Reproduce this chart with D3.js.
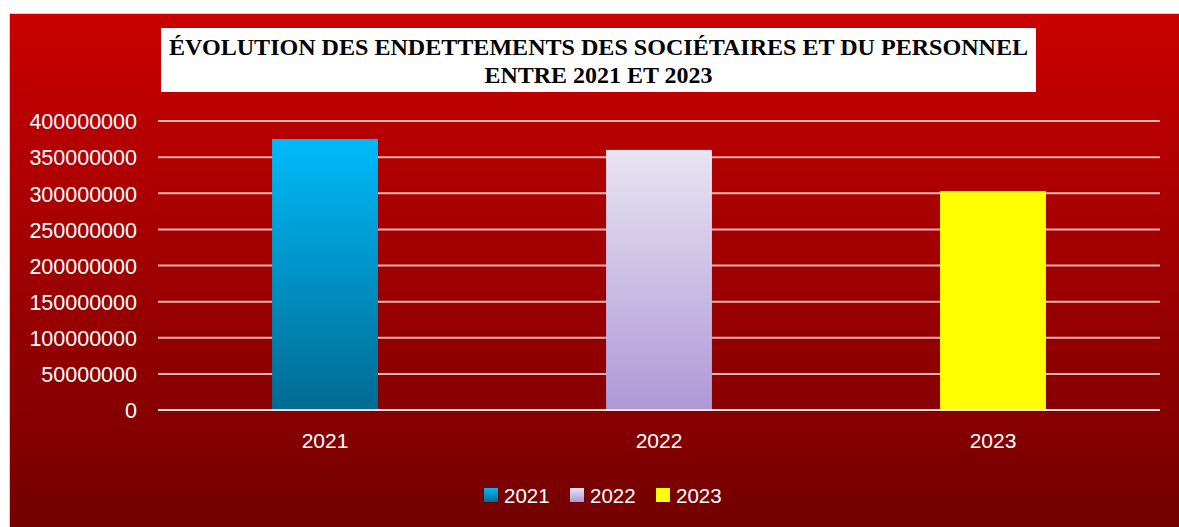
<!DOCTYPE html>
<html><head><meta charset="utf-8">
<script src="https://cdn.jsdelivr.net/npm/d3@7"></script>
<style>body{margin:0;background:#fff}svg{display:block}</style>
</head><body>
<svg id="c" width="1179" height="527"></svg>
<script>
const categories = ["2021", "2022", "2023"];
const values = [375000000, 360000000, 303000000];
const yTicks = [0, 50000000, 100000000, 150000000, 200000000, 250000000, 300000000, 350000000, 400000000];
const titleLines = ["ÉVOLUTION DES ENDETTEMENTS DES SOCIÉTAIRES ET DU PERSONNEL", "ENTRE 2021 ET 2023"];
const seriesColors = [["#00BAFA", "#006B92"], ["#E8E4F2", "#AE98D6"], ["#FFFF00", "#FFFF00"]];

const svg = d3.select("#c");
const defs = svg.append("defs");
const bg = defs.append("linearGradient").attr("id","bg").attr("x1",0).attr("y1",0).attr("x2",0).attr("y2",1);
bg.append("stop").attr("offset","0%").attr("stop-color","#CA0000");
bg.append("stop").attr("offset","100%").attr("stop-color","#730000");
seriesColors.forEach((c,i)=>{
  const g = defs.append("linearGradient").attr("id","g"+i).attr("x1",0).attr("y1",0).attr("x2",0).attr("y2",1);
  g.append("stop").attr("offset","0%").attr("stop-color",c[0]);
  g.append("stop").attr("offset","100%").attr("stop-color",c[1]);
});

svg.append("rect").attr("x",9.5).attr("y",13.5).attr("width",1180).attr("height",520)
  .attr("fill","url(#bg)").attr("stroke","#cfcfcf").attr("stroke-width",1);

// title
svg.append("rect").attr("x",161).attr("y",28).attr("width",875).attr("height",64).attr("fill","#fff");
const titleLen = [859, 228];
svg.append("g").selectAll("text").data(titleLines).join("text")
  .attr("x",598.5).attr("y",(d,i)=>55+i*28).attr("text-anchor","middle")
  .attr("font-family","Liberation Serif, serif").attr("font-weight","bold").attr("font-size",22.5)
  .attr("fill","#000")
  .attr("textLength",(d,i)=> titleLen[i])
  .attr("lengthAdjust","spacingAndGlyphs")
  .text(d=>d);

const x = d3.scaleBand().domain(categories).range([158,1160]).paddingInner(0.683).paddingOuter(0.3415);
const y = d3.scaleLinear().domain([0,400000000]).range([410,121]);

// grid
svg.append("g").selectAll("line").data(yTicks).join("line")
  .attr("x1",158).attr("x2",1160).attr("y1",d=>y(d)).attr("y2",d=>y(d))
  .attr("stroke","rgba(255,235,235,0.78)").attr("stroke-width",2);

// y axis labels
const ya = svg.append("g").attr("transform","translate(137,0)")
  .call(d3.axisLeft(y).tickValues(yTicks).tickFormat(d3.format("d")).tickSize(0).tickPadding(0));
ya.select(".domain").remove();
ya.selectAll("text").attr("fill","#fff").attr("font-family","Liberation Sans, Arial, sans-serif").attr("font-size",21.5).attr("dy","0.36em");

// bars
svg.append("g").selectAll("rect").data(values).join("rect")
  .attr("x",(d,i)=>x(categories[i])).attr("width",x.bandwidth())
  .attr("y",d=>y(d)).attr("height",d=>y(0)-y(d))
  .attr("fill",(d,i)=>"url(#g"+i+")");

// x axis labels
const xa = svg.append("g").attr("transform","translate(0,448)")
  .call(d3.axisBottom(x).tickSize(0).tickPadding(0));
xa.select(".domain").remove();
xa.selectAll("text").attr("fill","#fff").attr("font-family","Liberation Sans, Arial, sans-serif").attr("font-size",21).attr("dy","0");

// baseline
svg.append("line").attr("x1",158).attr("x2",1160).attr("y1",y(0)).attr("y2",y(0))
  .attr("stroke","rgba(255,235,235,0.85)").attr("stroke-width",2);

// legend
const legX = [484, 570, 656];
const lg = svg.append("g").selectAll("g").data(categories).join("g")
  .attr("transform",(d,i)=>`translate(${legX[i]},488)`);
lg.append("rect").attr("width",14).attr("height",14).attr("fill",(d,i)=>"url(#g"+i+")");
lg.append("text").attr("x",20).attr("y",14.5).attr("fill","#fff")
  .attr("font-family","Liberation Sans, Arial, sans-serif").attr("font-size",20.5).text(d=>d);
</script>
</body></html>
